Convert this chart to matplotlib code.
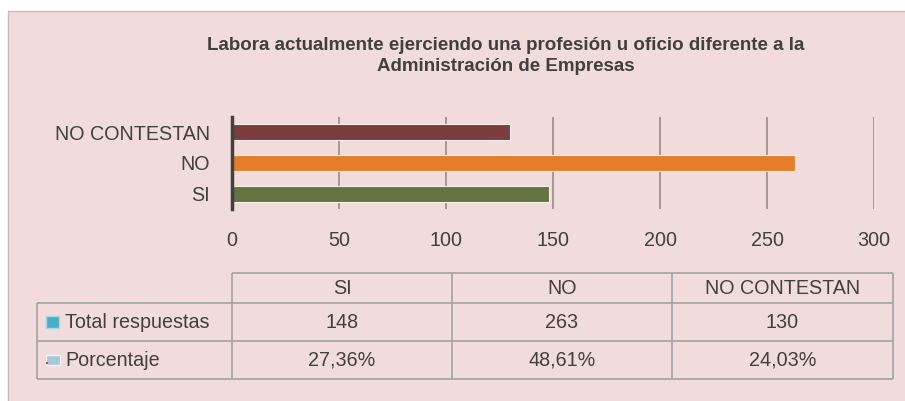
import numpy as np
from matplotlib import pyplot as plt
from matplotlib.patches import Rectangle

plt.rcParams['font.family'] = ['Liberation Sans', 'DejaVu Sans']

categorias = ['SI', 'NO', 'NO CONTESTAN']
total = [148, 263, 130]
porcentaje = ['27,36%', '48,61%', '24,03%']
series = ['Total respuestas', 'Porcentaje']
colores = ['#647440', '#E67D2A', '#7A3D3C']
titulo = 'Labora actualmente ejerciendo una profesión u oficio diferente a la\nAdministración de Empresas'

W, H = 905, 401
fondo = '#F2DCDB'
texto = '#404040'
borde = '#A6A6A6'


def fx(px):
    return px / W


def fy(py):
    return 1 - py / H


fig = plt.figure(figsize=(W / 100, H / 100), dpi=100)
fig.patch.set_facecolor('white')
fig.patches.append(Rectangle((fx(8), -0.01), 1, fy(11) + 0.01, transform=fig.transFigure,
                             facecolor=fondo, edgecolor='#BFBFBF', lw=1, zorder=-10))

fig.text(fx(506), fy(56), titulo, ha='center', va='center', fontsize=13.5,
         fontweight='bold', color=texto, linespacing=1.25)

# barras
ax = fig.add_axes([fx(232), fy(209), fx(874) - fx(232), fy(117) - fy(209)])
ax.set_facecolor('none')
y = np.arange(len(categorias))
ax.barh(y, total, height=0.52, color=colores, edgecolor='#F8F0F0', linewidth=0.8, zorder=3)
ax.set_xlim(0, 300)
ax.set_ylim(-0.5, 2.5)
ax.set_xticks(np.arange(0, 301, 50))
ax.set_yticks(y)
ax.set_yticklabels(categorias)
ax.grid(axis='x', color='#9A8A8A', lw=1.2, zorder=1)
for s in ['top', 'right', 'bottom']:
    ax.spines[s].set_visible(False)
ax.spines['left'].set_color('#404040')
ax.spines['left'].set_linewidth(2.5)
ax.spines['left'].set_zorder(4)
ax.tick_params(axis='x', length=0, pad=16, labelsize=14.2, labelcolor=texto)
ax.tick_params(axis='y', length=0, pad=16, labelsize=14.2, labelcolor=texto)

# tabla de datos (en pixeles)
tax = fig.add_axes([0, 0, 1, 1])
tax.set_xlim(0, W)
tax.set_ylim(H, 0)
tax.axis('off')
cols = [37, 232, 452, 672, 893]
filas = [273, 303, 341, 379]
fs = 14.2
# encabezado
tax.hlines(filas[0], cols[1], cols[-1], color=borde, lw=1.3)
tax.vlines(cols[1:], filas[0], filas[-1], color=borde, lw=1.3)
tax.hlines(filas[1:], cols[0], cols[-1], color=borde, lw=1.3)
tax.vlines(cols[0], filas[1], filas[-1], color=borde, lw=1.3)
for i, cat in enumerate(categorias):
    xc = (cols[i + 1] + cols[i + 2]) / 2
    tax.text(xc, (filas[0] + filas[1]) / 2 + 1, cat, ha='center', va='center',
             fontsize=fs, color=texto)
    tax.text(xc, (filas[1] + filas[2]) / 2, str(total[i]), ha='center', va='center',
             fontsize=fs, color=texto)
    tax.text(xc, (filas[2] + filas[3]) / 2, porcentaje[i], ha='center', va='center',
             fontsize=fs, color=texto)
for j, s in enumerate(series):
    yc = (filas[j + 1] + filas[j + 2]) / 2
    tax.text(65, yc, s, ha='left', va='center', fontsize=fs, color=texto)

# marcadores de la leyenda
yc1 = (filas[1] + filas[2]) / 2
yc2 = (filas[2] + filas[3]) / 2
tax.add_patch(Rectangle((46, yc1 - 6), 13, 12, facecolor='#4BACC6',
                        edgecolor='#A9D6E2', lw=1))
tax.add_patch(Rectangle((46, yc2 - 5), 14, 10, facecolor='#A5C8DA',
                        edgecolor='#EEF4F7', lw=1))
tax.plot([46, 60], [yc2 + 3, yc2 + 3], color='#E04040', lw=1.5, ls=(0, (1, 6)))

fig.savefig('out.png', dpi=100, facecolor=fig.get_facecolor())
